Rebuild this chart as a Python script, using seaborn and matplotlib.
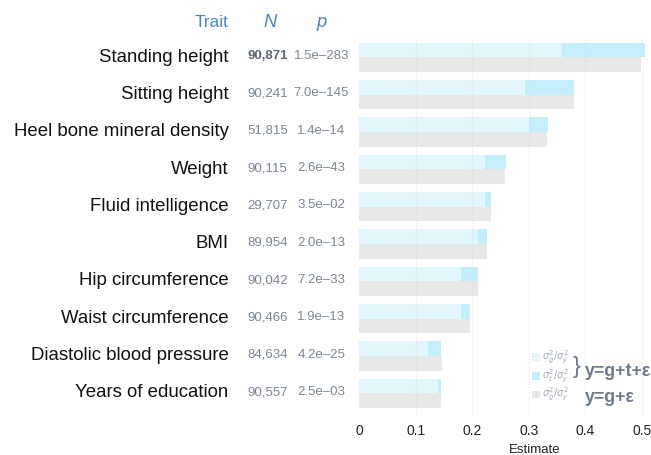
import matplotlib
matplotlib.use("Agg")
import matplotlib.pyplot as plt
import seaborn as sns
import pandas as pd
from matplotlib.patches import Rectangle

traits = ["Standing height", "Sitting height", "Heel bone mineral density", "Weight",
          "Fluid intelligence", "BMI", "Hip circumference", "Waist circumference",
          "Diastolic blood pressure", "Years of education"]
n_values = ["90,871", "90,241", "51,815", "90,115", "29,707", "89,954", "90,042",
            "90,466", "84,634", "90,557"]
p_values = ["1.5e–283", "7.0e–145", "1.4e–14", "2.6e–43", "3.5e–02", "2.0e–13",
            "7.2e–33", "1.9e–13", "4.2e–25", "2.5e–03"]
# model y = g + t + e : genetic part and total (g + t)
g_full = [0.359, 0.294, 0.300, 0.223, 0.223, 0.2095, 0.181, 0.180, 0.121, 0.139]
total_full = [0.505, 0.381, 0.334, 0.260, 0.234, 0.227, 0.210, 0.196, 0.145, 0.145]
# model y = g + e
g_only = [0.498, 0.380, 0.333, 0.258, 0.234, 0.227, 0.210, 0.196, 0.147, 0.145]
x_ticks = [0, 0.1, 0.2, 0.3, 0.4, 0.5]
x_tick_labels = ["0", "0.1", "0.2", "0.3", "0.4", "0.5"]

LIGHT = "#e2f6fd"
DARK = "#c3eefb"
GREY = "#e8e8e8"
HEAD = "#4a87c2"
NUMC = "#7b8593"
LEGC = "#6c7a8c"

sns.set_theme(style="white")
plt.rcParams["font.family"] = ["Liberation Sans", "DejaVu Sans"]

W, H = 651, 455
fig = plt.figure(figsize=(W / 100, H / 100), dpi=100)
ax_left_px, ax_right_px, ax_top_px, ax_bot_px = 359.2, 650.0, 38.0, 418.0
ax = fig.add_axes([ax_left_px / W, 1 - ax_bot_px / H,
                   (ax_right_px - ax_left_px) / W, (ax_bot_px - ax_top_px) / H])

models = ["y=g+t+ε", "y=g+ε"]
df_total = pd.DataFrame({
    "trait": traits * 2,
    "model": [models[0]] * len(traits) + [models[1]] * len(traits),
    "value": total_full + g_only,
})
df_g = pd.DataFrame({
    "trait": traits * 2,
    "model": [models[0]] * len(traits) + [models[1]] * len(traits),
    "value": g_full + g_only,
})

sns.barplot(data=df_total, y="trait", x="value", hue="model", hue_order=models,
            order=traits, orient="h", palette=[DARK, GREY], width=0.79,
            saturation=1, legend=False, ax=ax, zorder=2)
sns.barplot(data=df_g, y="trait", x="value", hue="model", hue_order=models,
            order=traits, orient="h", palette=[LIGHT, GREY], width=0.79,
            saturation=1, legend=False, ax=ax, zorder=3)
for p in ax.patches:
    p.set_linewidth(0)

xmax = 0.5147
ax.set_xlim(0, xmax)
ax.set_ylim(9.66, -0.52)
for s in ax.spines.values():
    s.set_visible(False)
ax.set_yticks([])
ax.set_ylabel("")
ax.set_xlabel("")
ax.set_xticks(x_ticks)
ax.set_xticklabels(x_tick_labels, fontsize=10, color="#222222")
ax.tick_params(axis="x", length=0, pad=4)
for xv in x_ticks[1:]:
    ax.axvline(xv, color="#dcdcdc", lw=0.8, ls=(0, (1, 1.5)), zorder=4, alpha=0.7)

def ax_x(px):
    return (px - ax_left_px) / (ax_right_px - ax_left_px)

tr = ax.get_yaxis_transform()
for i, (t, n, pv) in enumerate(zip(traits, n_values, p_values)):
    ax.text(ax_x(228.7), i + 0.11, t, transform=tr, ha="right", va="baseline",
            fontsize=13.4, color="#111111", clip_on=False)
    ax.text(ax_x(267.5), i + 0.045, n, transform=tr, ha="center", va="baseline",
            fontsize=9.5, color="#5d6570" if i == 0 else NUMC,
            fontweight="bold" if i == 0 else "normal", clip_on=False)
    ax.text(ax_x(321.5), i + 0.045, pv, transform=tr, ha="center", va="baseline",
            fontsize=9.5, color=NUMC, clip_on=False)

# headers
fig.text(228.7 / W, 1 - 27.3 / H, "Trait", ha="right", va="baseline", fontsize=12.4, color=HEAD)
fig.text(270 / W, 1 - 27.3 / H, "N", ha="center", va="baseline", fontsize=13.2,
         color=HEAD, style="italic")
fig.text(322 / W, 1 - 27.3 / H, "p", ha="center", va="baseline", fontsize=13.2,
         color=HEAD, style="italic")

# x label
fig.text(535 / W, 1 - 450 / H, "Estimate", ha="center", va="center", fontsize=9.5, color="#222222")

# legend
sq = 7.5
for (yc, col) in [(357, LIGHT), (376, DARK), (394.5, GREY)]:
    fig.patches.append(Rectangle(((532) / W, 1 - (yc + sq / 2) / H), sq / W, sq / H,
                                 transform=fig.transFigure, facecolor=col, edgecolor="none"))
leg_labels = [r"$\sigma^2_g/\sigma^2_y$", r"$\sigma^2_t/\sigma^2_y$", r"$\sigma^2_g/\sigma^2_y$"]
for yc, lab in zip([357, 376, 394.5], leg_labels):
    fig.text(542 / W, 1 - yc / H, lab, ha="left", va="center", fontsize=7, color="#a3abb5")
fig.text(576.5 / W, 1 - 367 / H, "}", ha="center", va="center", fontsize=17, color=LEGC,
         fontweight="light")
fig.text(585 / W, 1 - 371 / H, models[0], ha="left", va="center", fontsize=12.8,
         fontweight="bold", color=LEGC)
fig.text(585 / W, 1 - 397 / H, models[1], ha="left", va="center", fontsize=12.8,
         fontweight="bold", color=LEGC)

fig.savefig("out.png", dpi=100, facecolor="white")
